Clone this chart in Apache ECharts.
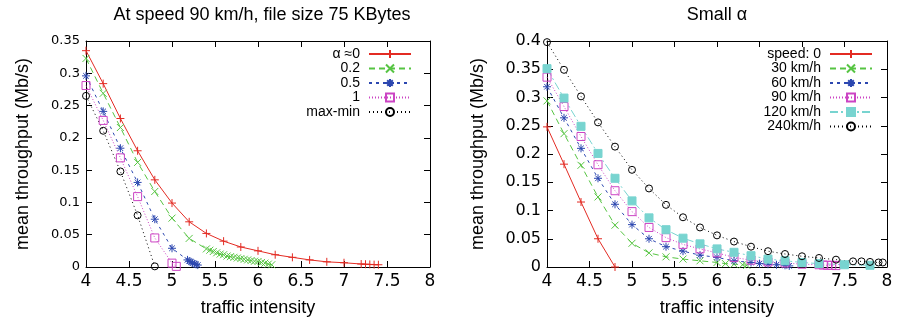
<!DOCTYPE html>
<html>
<head>
<meta charset="utf-8">
<script src="https://cdn.jsdelivr.net/npm/echarts@6.0.0/dist/echarts.min.js"></script>
<style>
  html, body { margin: 0; padding: 0; background: #fff; }
  #chart { width: 905px; height: 324px; }
</style>
</head>
<body>
<div id="chart"></div>
<script>
// ---- left panel: speed 90 km/h, file size 75 KBytes ----
const leftNames = ['α ≈0', '0.2', '0.5', '1', 'max-min']
const alpha0X = [4.0, 4.2, 4.4, 4.6, 4.8, 5.0, 5.2, 5.4, 5.6, 5.8, 6.0, 6.2, 6.4, 6.6, 6.8, 7.0, 7.2, 7.25, 7.3, 7.35, 7.4]
const alpha0Y = [0.335, 0.284, 0.230, 0.180, 0.135, 0.099, 0.070, 0.052, 0.040, 0.031, 0.025, 0.019, 0.015, 0.011, 0.008, 0.0066, 0.0046, 0.0043, 0.004, 0.0037, 0.0035]
const alpha02X = [4.0, 4.2, 4.4, 4.6, 4.8, 5.0, 5.2, 5.40, 5.44, 5.48, 5.52, 5.56, 5.60, 5.64, 5.68, 5.72, 5.76, 5.80, 5.84, 5.88, 5.92, 5.96, 6.00, 6.04, 6.08, 6.12, 6.16]
const alpha02Y = [0.323, 0.269, 0.216, 0.162, 0.117, 0.0757, 0.0443, 0.028, 0.026, 0.024, 0.022, 0.020, 0.019, 0.017, 0.016, 0.015, 0.014, 0.013, 0.012, 0.011, 0.010, 0.009, 0.0085, 0.007, 0.006, 0.0045, 0.0035]
const alpha05X = [4.0, 4.2, 4.4, 4.6, 4.8, 5.0, 5.18, 5.2, 5.22, 5.24, 5.26, 5.28, 5.3]
const alpha05Y = [0.296, 0.241, 0.184, 0.131, 0.074, 0.029, 0.011, 0.009, 0.008, 0.006, 0.005, 0.004, 0.003]
const alpha1X = [4.0, 4.2, 4.4, 4.6, 4.8, 5.0, 5.05]
const alpha1Y = [0.281, 0.227, 0.169, 0.109, 0.045, 0.006, 0.001]
const maxMinX = [4.0, 4.2, 4.4, 4.6, 4.8]
const maxMinY = [0.265, 0.211, 0.148, 0.080, 0.001]

// ---- right panel: small alpha, by speed ----
const rightNames = ['speed: 0', '30 km/h', '60 km/h', '90 km/h', '120 km/h', '240km/h']
const speed0X = [4.0, 4.2, 4.4, 4.6, 4.8]
const speed0Y = [0.248, 0.182, 0.115, 0.050, 0]
const speed30X = [4.0, 4.2, 4.4, 4.6, 4.8, 5.0, 5.2, 5.4, 5.6, 5.8, 6.0, 6.1, 6.2, 6.3, 6.35]
const speed30Y = [0.294, 0.236, 0.180, 0.124, 0.074, 0.042, 0.025, 0.018, 0.014, 0.011, 0.008, 0.006, 0.005, 0.004, 0.003]
const speed60X = [4.0, 4.2, 4.4, 4.6, 4.8, 5.0, 5.2, 5.4, 5.6, 5.8, 6.0, 6.2, 6.4, 6.5, 6.6, 6.7, 6.8, 6.85]
const speed60Y = [0.319, 0.264, 0.210, 0.157, 0.111, 0.075, 0.050, 0.036, 0.028, 0.021, 0.017, 0.011, 0.008, 0.006, 0.005, 0.004, 0.003, 0.002]
const speed90X = [4.0, 4.2, 4.4, 4.6, 4.8, 5.0, 5.2, 5.4, 5.6, 5.8, 6.0, 6.2, 6.4, 6.6, 6.8, 7.0, 7.2, 7.25, 7.3, 7.35, 7.4]
const speed90Y = [0.336, 0.284, 0.231, 0.181, 0.135, 0.098, 0.070, 0.052, 0.040, 0.032, 0.025, 0.017, 0.012, 0.009, 0.007, 0.005, 0.004, 0.0035, 0.003, 0.003, 0.0025]
const speed120X = [4.0, 4.2, 4.4, 4.6, 4.8, 5.0, 5.2, 5.4, 5.6, 5.8, 6.0, 6.2, 6.4, 6.6, 6.8, 7.0, 7.2, 7.5, 7.8]
const speed120Y = [0.351, 0.299, 0.249, 0.201, 0.157, 0.117, 0.087, 0.066, 0.051, 0.041, 0.032, 0.026, 0.020, 0.014, 0.011, 0.008, 0.006, 0.004, 0.003]
const speed240X = [4.0, 4.2, 4.4, 4.6, 4.8, 5.0, 5.2, 5.4, 5.6, 5.8, 6.0, 6.2, 6.4, 6.6, 6.8, 7.0, 7.2, 7.4, 7.6, 7.7, 7.8, 7.9, 7.95]
const speed240Y = [0.398, 0.349, 0.302, 0.256, 0.213, 0.172, 0.139, 0.110, 0.088, 0.070, 0.056, 0.045, 0.036, 0.028, 0.023, 0.019, 0.016, 0.013, 0.010, 0.010, 0.009, 0.008, 0.008]

const FONT = '"Liberation Sans", Arial, Helvetica, sans-serif'
const TICKFONT = '"DejaVu Sans", sans-serif'

const RED = '#e32b23'
const GREEN = '#56c442'
const BLUE = '#2c47b0'
const MAGENTA = '#cc44c4'
const CYAN = '#78d4d0'
const BLACK = '#000'

const PLUS = 'path://M5,0L5,10M0,5L10,5'
const CROSS = 'path://M0,0L10,10M10,0L0,10'
const STAR = 'path://M5,0L5,10M0,5L10,5M1.5,1.5L8.5,8.5M8.5,1.5L1.5,8.5'

const styles = [
  { color: RED, dash: 'solid', symbol: PLUS, size: 8, fill: RED },
  { color: GREEN, dash: [6, 4], symbol: CROSS, size: 7, fill: GREEN },
  { color: BLUE, dash: [3, 4], symbol: STAR, size: 8, fill: BLUE },
  { color: MAGENTA, dash: [1, 2], symbol: 'rect', size: 8, fill: 'rgba(0,0,0,0)' },
  { color: CYAN, dash: [8, 3, 2, 3], symbol: 'rect', size: 8, fill: CYAN },
  { color: BLACK, dash: [1, 3], symbol: 'circle', size: 7, fill: 'rgba(0,0,0,0)' },
]

function line(name, xs, ys, axisIndex, s) {
  return {
    type: 'line',
    name,
    xAxisIndex: axisIndex,
    yAxisIndex: axisIndex,
    data: xs.map((x, i) => [x, ys[i]]),
    symbol: s.symbol,
    symbolSize: s.size,
    clip: false,
    lineStyle: { color: s.color, width: 1, type: s.dash },
    itemStyle: { color: s.fill, borderColor: s.color, borderWidth: 1 },
    emphasis: { disabled: true },
  }
}

function axesX(gridIndex) {
  const base = {
    gridIndex,
    type: 'value',
    min: 4,
    max: 8,
    interval: 0.5,
    axisLine: { onZero: false, lineStyle: { color: '#000', width: 1 } },
    axisTick: { inside: true, length: 6, lineStyle: { color: '#000' } },
    splitLine: { show: false },
  }
  return [
    {
      ...base,
      position: 'bottom',
      axisLabel: { color: '#000', fontSize: 17, fontFamily: TICKFONT, margin: 6, showMinLabel: true, showMaxLabel: true },
      name: 'traffic intensity',
      nameLocation: 'middle',
      nameGap: 32,
      nameTextStyle: { color: '#000', fontSize: 18, fontFamily: FONT },
    },
    { ...base, position: 'top', axisLabel: { show: false } },
  ]
}

function axesY(gridIndex, max, labelSize, nameGap) {
  const base = {
    gridIndex,
    type: 'value',
    min: 0,
    max,
    interval: 0.05,
    axisLine: { onZero: false, lineStyle: { color: '#000', width: 1 } },
    axisTick: { inside: true, length: 6, lineStyle: { color: '#000' } },
    splitLine: { show: false },
  }
  return [
    {
      ...base,
      position: 'left',
      axisLabel: { color: '#000', fontSize: labelSize, fontFamily: TICKFONT, margin: 6, showMinLabel: true, showMaxLabel: true },
      name: 'mean throughput (Mb/s)',
      nameLocation: 'middle',
      nameGap,
      nameTextStyle: { color: '#000', fontSize: 18, fontFamily: FONT },
    },
    { ...base, position: 'right', axisLabel: { show: false } },
  ]
}

function legend(names, right) {
  return {
    data: names,
    orient: 'vertical',
    right,
    top: 47,
    align: 'right',
    padding: 0,
    itemWidth: 42,
    itemHeight: 10,
    itemGap: 0.5,
    selectedMode: false,
    textStyle: { color: '#000', fontSize: 14, lineHeight: 14, fontFamily: FONT, padding: [0, 4, 0, 0] },
  }
}

const chart = echarts.init(document.getElementById('chart'), null, { renderer: 'canvas' })

const leftX = [alpha0X, alpha02X, alpha05X, alpha1X, maxMinX]
const leftY = [alpha0Y, alpha02Y, alpha05Y, alpha1Y, maxMinY]
const leftStyles = [styles[0], styles[1], styles[2], styles[3], styles[5]]
const rightX = [speed0X, speed30X, speed60X, speed90X, speed120X, speed240X]
const rightY = [speed0Y, speed30Y, speed60Y, speed90Y, speed120Y, speed240Y]

// x axes: 0 bottom-left, 1 top-left, 2 bottom-right, 3 top-right (same for y)
chart.setOption({
  animation: false,
  title: [
    { text: 'At speed 90 km/h, file size 75 KBytes', left: 262, top: 6, textAlign: 'center', padding: 0,
      textStyle: { color: '#000', fontSize: 18, fontWeight: 'normal', fontFamily: FONT } },
    { text: 'Small α', left: 717, top: 6, textAlign: 'center', padding: 0,
      textStyle: { color: '#000', fontSize: 18, fontWeight: 'normal', fontFamily: FONT } },
  ],
  grid: [
    { left: 86, top: 41, width: 344, height: 226, outerBoundsMode: 'none', show: false },
    { left: 547, top: 41, width: 340, height: 226, outerBoundsMode: 'none', show: false },
  ],
  xAxis: [...axesX(0), ...axesX(1)],
  yAxis: [...axesY(0, 0.35, 13, 54), ...axesY(1, 0.4, 16, 60)],
  legend: [legend(leftNames, 493), legend(rightNames, 32)],
  series: [
    ...leftNames.map((n, i) => line(n, leftX[i], leftY[i], 0, leftStyles[i])),
    ...rightNames.map((n, i) => line(n, rightX[i], rightY[i], 2, styles[i])),
  ],
})
</script>
</body>
</html>
